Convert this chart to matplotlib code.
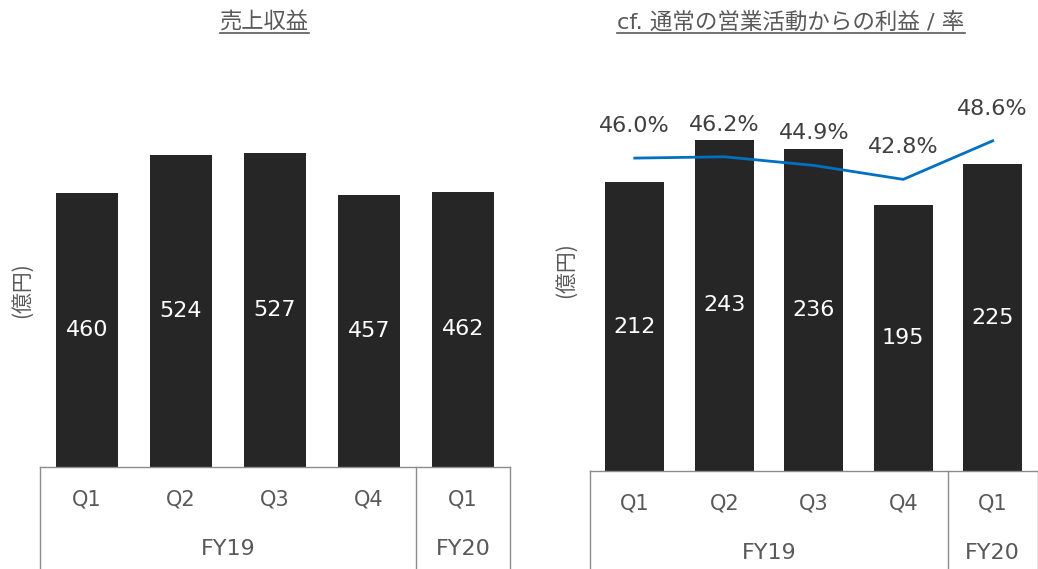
import matplotlib
matplotlib.use('Agg')
import matplotlib.pyplot as plt
from matplotlib.lines import Line2D

W, H = 1038, 569

quarters = ['Q1', 'Q2', 'Q3', 'Q4', 'Q1']
years = ['FY19', 'FY20']
revenue = [460, 524, 527, 457, 462]
op_profit = [212, 243, 236, 195, 225]
op_margin = [46.0, 46.2, 44.9, 42.8, 48.6]

BAR = '#262626'
TXT = '#595959'
LINE = '#0070C0'
GRID = '#8c8c8c'
JP = ['Noto Sans CJK JP', 'DejaVu Sans']
LAT = ['DejaVu Sans', 'Noto Sans CJK JP']


def fx(x):
    return x / W


def fy(y):
    return 1 - y / H


def make_axes(fig, left, right, base, top, ymax):
    ax = fig.add_axes([fx(left), fy(base), fx(right - left), (base - top) / H])
    ax.set_xlim(-0.5, 4.5)
    ax.set_ylim(0, ymax)
    for s in ['top', 'left', 'right']:
        ax.spines[s].set_visible(False)
    ax.spines['bottom'].set_color(GRID)
    ax.spines['bottom'].set_linewidth(1.0)
    ax.set_xticks([])
    ax.set_yticks([])
    ax.patch.set_alpha(0)
    tr = ax.get_xaxis_transform()
    # category table borders below the axis
    for xv in [-0.5, 3.5, 4.5]:
        ax.add_line(Line2D([xv, xv], [0, -1], transform=tr, color=GRID,
                           lw=1.0, clip_on=False))
    for i, q in enumerate(quarters):
        ax.annotate(q, xy=(i, 0), xycoords=tr, xytext=(0, -33 * 72 / 100),
                    textcoords='offset points', ha='center', va='center',
                    fontsize=15, color=TXT, family=LAT)
    for xv, yr in zip([1.5, 4], years):
        ax.annotate(yr, xy=(xv, 0), xycoords=tr, xytext=(0, -82 * 72 / 100),
                    textcoords='offset points', ha='center', va='center',
                    fontsize=16, color=TXT, family=LAT)
    return ax


fig = plt.figure(figsize=(W / 100, H / 100), dpi=100)
x = list(range(len(quarters)))

# revenue panel
ax1 = make_axes(fig, 40, 510, 467, 60, (467 - 60) / 0.596)
ax1.bar(x, revenue, width=0.66, color=BAR)
for xi, v in zip(x, revenue):
    ax1.text(xi, v / 2, str(v), ha='center', va='center', color='white',
             fontsize=16, family=LAT)

# operating cash flow panel
ax2 = make_axes(fig, 590, 1037.5, 471, 60, (471 - 60) / 1.363)
ax2.bar(x, op_profit, width=0.66, color=BAR)
for xi, v in zip(x, op_profit):
    ax2.text(xi, v / 2, str(v), ha='center', va='center', color='white',
             fontsize=16, family=LAT)

ax3 = ax2.twinx()
ax3.set_ylim((464 - 471) / 6.65, (464 - 60) / 6.65)
ax3.set_xlim(-0.5, 4.5)
ax3.axis('off')
ax3.plot(x, op_margin, color=LINE, lw=2.0)
for xi, v in zip(x, op_margin):
    ax3.annotate(f'{v:.1f}%', xy=(xi, v), xytext=(0, 32 * 72 / 100),
                 textcoords='offset points', ha='center', va='center',
                 fontsize=16, color='#404040', family=LAT)

# titles and units
t1 = fig.text(fx(264), fy(22), '売上収益', ha='center', va='center',
              fontsize=16, color=TXT, family=JP)
t2 = fig.text(fx(791), fy(22), 'cf. 通常の営業活動からの利益 / 率', ha='center',
              va='center', fontsize=16.2, color=TXT, family=LAT)
fig.text(fx(22), fy(290), '(億円)', rotation=90, ha='center', va='center',
         fontsize=15, color=TXT, family=JP)
fig.text(fx(566), fy(270), '(億円)', rotation=90, ha='center', va='center',
         fontsize=15, color=TXT, family=JP)

fig.canvas.draw()
for t in (t1, t2):
    bb = t.get_window_extent()
    fig.add_artist(Line2D([bb.x0 / W, bb.x1 / W], [fy(33), fy(33)],
                          transform=fig.transFigure, color=TXT, lw=1.2))

fig.savefig('out.png', dpi=100)
